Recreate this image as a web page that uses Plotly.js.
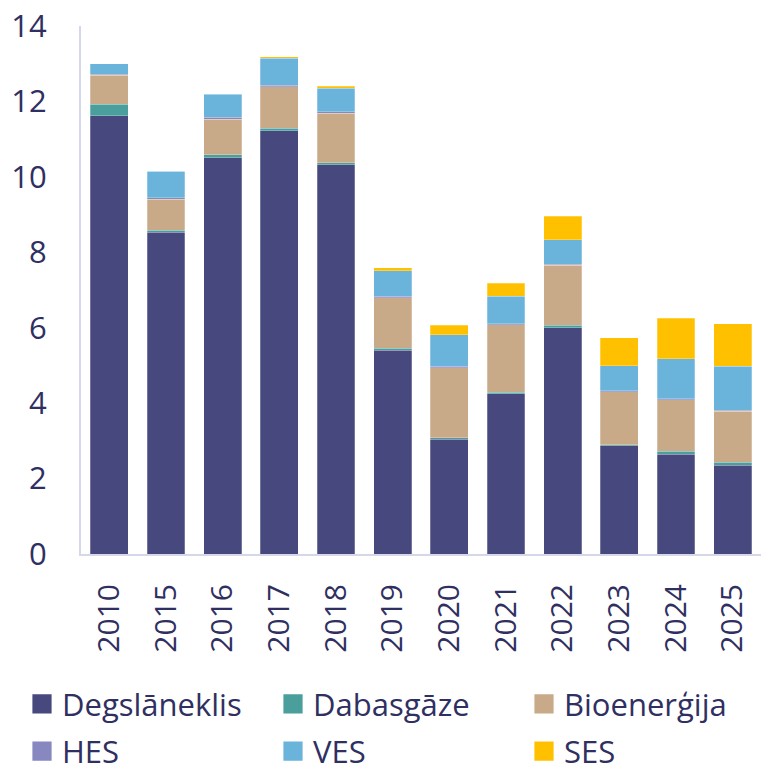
<!DOCTYPE html>
<html>
<head>
<meta charset="utf-8">
<script src="https://cdn.plot.ly/plotly-3.0.1.min.js"></script>
<style>html,body{margin:0;padding:0;background:#fff;}#chart{width:761px;height:767px;}</style>
</head>
<body>
<div id="chart"></div>
<script>
const years = ['2010','2015','2016','2017','2018','2019','2020','2021','2022','2023','2024','2025'];
const degslaneklis = [11.62, 8.53, 10.51, 11.22, 10.32, 5.40, 3.04, 4.25, 6.00, 2.87, 2.65, 2.35];
const dabasgaze   = [0.31, 0.06, 0.07, 0.07, 0.06, 0.05, 0.045, 0.035, 0.06, 0.03, 0.07, 0.08];
const bioenergija = [0.76, 0.82, 0.95, 1.10, 1.31, 1.35, 1.86, 1.79, 1.59, 1.40, 1.37, 1.35];
const hes         = [0.035, 0.04, 0.045, 0.04, 0.035, 0.035, 0.03, 0.03, 0.03, 0.03, 0.03, 0.03];
const ves         = [0.27, 0.70, 0.61, 0.72, 0.63, 0.68, 0.84, 0.73, 0.65, 0.66, 1.06, 1.17];
const ses         = [0, 0, 0.02, 0.03, 0.045, 0.07, 0.25, 0.35, 0.62, 0.74, 1.07, 1.12];
const seriesNames = ['Degslāneklis','Dabasgāze','Bioenerģija','HES','VES','SES'];
const seriesColors = ['#46487e','#4a9e9b','#c8aa88','#8788bf','#6ab3da','#ffc000'];
const seriesValues = [degslaneklis, dabasgaze, bioenergija, hes, ves, ses];
const legendOf = ['legend','legend2','legend3','legend','legend2','legend3'];

const textColor = '#2f3061';
const fontFamily = '"Open Sans", "Noto Sans", sans-serif';

const traces = [];
seriesValues.forEach((vals, i) => {
  traces.push({
    type: 'bar', name: seriesNames[i], x: years, y: vals,
    marker: {color: seriesColors[i], line: {width: 0.5, color: 'rgba(255,255,255,0.5)'}},
    legend: legendOf[i], legendgroup: 'g' + i, showlegend: true, hoverinfo: 'x+y+name'
  });
});

const legBase = {
  orientation: 'v', xref: 'container', yref: 'container', xanchor: 'left', yanchor: 'top',
  y: 0.117, font: {family: fontFamily, size: 31, color: textColor},
  bgcolor: 'rgba(0,0,0,0)', borderwidth: 0, tracegroupgap: 4,
  traceorder: 'grouped'
};

const layout = {
  width: 761, height: 767,
  margin: {l: 81, r: 0, t: 26, b: 213, autoexpand: false},
  paper_bgcolor: '#ffffff', plot_bgcolor: '#ffffff',
  barmode: 'stack', bargap: 0.33,
  font: {family: fontFamily, color: textColor, size: 30},
  xaxis: {
    type: 'category', tickangle: -90, showgrid: false, zeroline: false,
    showline: true, linecolor: '#d5d7ea', linewidth: 2, ticks: '',
    ticklabelstandoff: 16, automargin: false,
    tickfont: {family: fontFamily, size: 30, color: textColor}
  },
  yaxis: {
    range: [0, 14], dtick: 2, tick0: 0, showgrid: false, zeroline: false,
    showline: true, linecolor: '#d5d7ea', linewidth: 2, ticks: '',
    ticklabelstandoff: 26, automargin: false,
    tickfont: {family: fontFamily, size: 31, color: textColor}
  },
  legend: Object.assign({}, legBase, {x: 22/761}),
  legend2: Object.assign({}, legBase, {x: 273/761}),
  legend3: Object.assign({}, legBase, {x: 524/761}),
  showlegend: true
};

Plotly.newPlot('chart', traces, layout, {displayModeBar: false, staticPlot: true}).then(() => {
  // enlarge legend swatches to match the reference's larger squares
  document.querySelectorAll('#chart .legendpoints path').forEach(p => {
    const t = p.getAttribute('transform') || '';
    p.setAttribute('transform', t + ' scale(1.6)');
    p.style.strokeWidth = '0';
  });
});
</script>
</body>
</html>
